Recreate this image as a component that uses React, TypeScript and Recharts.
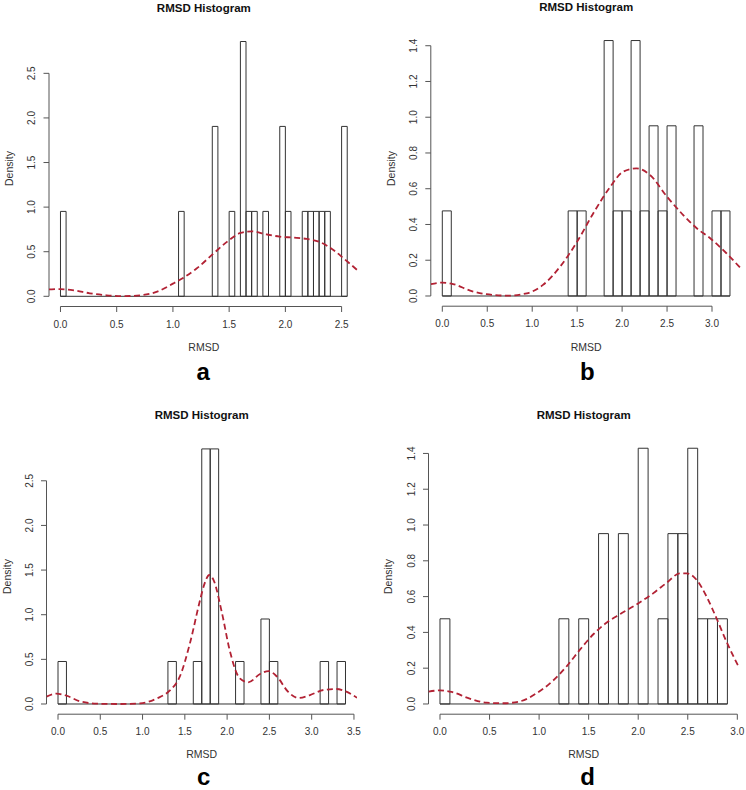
import React from 'react';
import { ComposedChart, Bar, Line, XAxis, YAxis, ReferenceLine } from 'recharts';

// ---------- Panel a (bin width 0.05) ----------
const binMidA = [0.025, 1.075, 1.375, 1.525, 1.625, 1.675, 1.725, 1.825, 1.975, 2.025, 2.175, 2.225, 2.275, 2.325, 2.375, 2.525];
const densA = [0.952, 0.952, 1.905, 0.952, 2.857, 0.952, 0.952, 0.952, 1.905, 0.952, 0.952, 0.952, 0.952, 0.952, 0.952, 1.905];
const curveXA = [-0.102, 0.0, 0.12, 0.26, 0.41, 0.56, 0.71, 0.86, 1.0, 1.09, 1.21, 1.36, 1.48, 1.6, 1.7, 1.83, 1.95, 2.07, 2.19, 2.31, 2.43, 2.52, 2.652];
const curveYA = [0.078, 0.08, 0.067, 0.034, 0.011, 0.002, 0.011, 0.052, 0.142, 0.206, 0.311, 0.479, 0.61, 0.71, 0.729, 0.695, 0.669, 0.658, 0.643, 0.606, 0.517, 0.423, 0.28];
const xTicksA = [0, 0.5, 1.0, 1.5, 2.0, 2.5];
const yTicksA = [0, 0.5, 1.0, 1.5, 2.0, 2.5];

// ---------- Panel b (bin width 0.1) ----------
const binMidB = [0.05, 1.45, 1.55, 1.85, 1.95, 2.05, 2.15, 2.25, 2.35, 2.45, 2.55, 2.85, 3.05, 3.15];
const densB = [0.476, 0.476, 0.476, 1.429, 0.476, 0.476, 1.429, 0.476, 0.952, 0.476, 0.952, 0.952, 0.476, 0.476];
const curveXB = [-0.128, 0.0, 0.12, 0.31, 0.49, 0.72, 0.94, 1.12, 1.31, 1.5, 1.68, 1.87, 2.01, 2.16, 2.31, 2.5, 2.68, 2.83, 2.98, 3.16, 3.328];
const curveYB = [0.066, 0.075, 0.067, 0.03, 0.01, 0.002, 0.015, 0.062, 0.164, 0.304, 0.463, 0.612, 0.695, 0.714, 0.677, 0.555, 0.453, 0.379, 0.323, 0.239, 0.15];
const xTicksB = [0, 0.5, 1.0, 1.5, 2.0, 2.5, 3.0];
const yTicksB = [0, 0.2, 0.4, 0.6, 0.8, 1.0, 1.2, 1.4];

// ---------- Panel c (bin width 0.1) ----------
const binMidC = [0.05, 1.35, 1.65, 1.75, 1.85, 2.15, 2.45, 2.55, 3.15, 3.35];
const densC = [0.476, 0.476, 0.476, 2.857, 2.857, 0.476, 0.952, 0.476, 0.476, 0.476];
const curveXC = [-0.136, -0.02, 0.1, 0.26, 0.46, 0.69, 0.97, 1.17, 1.32, 1.44, 1.56, 1.68, 1.73, 1.79, 1.84, 1.94, 2.03, 2.15, 2.25, 2.39, 2.49, 2.59, 2.72, 2.84, 2.98, 3.14, 3.29, 3.41, 3.536];
const curveYC = [0.082, 0.116, 0.093, 0.03, 0.004, 0.0, 0.007, 0.063, 0.149, 0.306, 0.679, 1.164, 1.34, 1.445, 1.388, 1.015, 0.604, 0.287, 0.243, 0.336, 0.369, 0.306, 0.138, 0.067, 0.1, 0.157, 0.168, 0.138, 0.07];
const xTicksC = [0, 0.5, 1.0, 1.5, 2.0, 2.5, 3.0, 3.5];
const yTicksC = [0, 0.5, 1.0, 1.5, 2.0, 2.5];

// ---------- Panel d (bin width 0.1) ----------
const binMidD = [0.05, 1.25, 1.45, 1.65, 1.85, 2.05, 2.25, 2.35, 2.45, 2.55, 2.65, 2.75, 2.85];
const densD = [0.476, 0.476, 0.476, 0.952, 0.952, 1.429, 0.476, 0.952, 0.952, 1.429, 0.476, 0.476, 0.476];
const curveXD = [-0.116, 0.0, 0.118, 0.3, 0.47, 0.64, 0.81, 0.975, 1.14, 1.28, 1.41, 1.55, 1.68, 1.82, 1.98, 2.15, 2.29, 2.42, 2.49, 2.59, 2.69, 2.79, 2.89, 3.016];
const curveYD = [0.069, 0.076, 0.067, 0.03, 0.007, 0.004, 0.015, 0.06, 0.13, 0.212, 0.302, 0.391, 0.454, 0.503, 0.555, 0.618, 0.678, 0.73, 0.73, 0.693, 0.6, 0.479, 0.349, 0.205];
const xTicksD = [0, 0.5, 1.0, 1.5, 2.0, 2.5, 3.0];
const yTicksD = [0, 0.2, 0.4, 0.6, 0.8, 1.0, 1.2, 1.4];

const FONT = '"Liberation Sans", Arial, Helvetica, sans-serif';
const AXIS_COLOR = '#555';
const BAR_COLOR = '#333';
const CURVE_COLOR = '#b22234';
const Y_AXIS_W = 30;
const X_AXIS_H = 30;

type PanelProps = {
  left: number; top: number; width: number; height: number;
  plot: { l: number; r: number; t: number; b: number };
  mids: number[]; dens: number[]; binW: number; firstBreak: number; lastBreak: number;
  curveX: number[]; curveY: number[];
  xDomain: [number, number]; yDomain: [number, number];
  xTicks: number[]; yTicks: number[];
};

const YTick = (props: any) => {
  const { x, y, payload } = props;
  return (
    <text x={x} y={y} transform={`rotate(-90 ${x} ${y})`} textAnchor="middle" fontSize={10} fill="#333" fontFamily={FONT}>
      {Number(payload.value).toFixed(1)}
    </text>
  );
};

const Panel = (p: PanelProps) => {
  const data = p.mids.map((m, i) => ({ mid: m, d: p.dens[i] }));
  const curve = p.curveX.map((x, i) => ({ x, y: p.curveY[i] }));
  const plotW = p.plot.r - p.plot.l;
  const barPx = (plotW * p.binW) / (p.xDomain[1] - p.xDomain[0]) - 0.01;
  const yTop = p.yTicks[p.yTicks.length - 1];
  const xFirst = p.xTicks[0];
  const xLast = p.xTicks[p.xTicks.length - 1];
  return (
    <div style={{ position: 'absolute', left: p.left, top: p.top, width: p.width, height: p.height, fontFamily: FONT }}>
      <ComposedChart
        width={p.width}
        height={p.height}
        data={data}
        barCategoryGap={0}
        barGap={0}
        margin={{
          top: p.plot.t,
          left: p.plot.l - Y_AXIS_W,
          right: p.width - p.plot.r,
          bottom: p.height - p.plot.b - X_AXIS_H,
        }}
      >
        <XAxis
          xAxisId="bins"
          dataKey="mid"
          type="number"
          domain={p.xDomain}
          allowDataOverflow
          ticks={p.xTicks}
          interval={0}
          tickFormatter={(v: number) => v.toFixed(1)}
          axisLine={false}
          stroke={AXIS_COLOR}
          tickSize={5.5}
          tickMargin={8.5}
          height={X_AXIS_H}
          tick={{ fontSize: 10, fill: '#333', fontFamily: FONT }}
        />
        <XAxis xAxisId="curve" dataKey="x" type="number" domain={p.xDomain} allowDataOverflow hide />
        <YAxis
          type="number"
          domain={p.yDomain}
          allowDataOverflow
          ticks={p.yTicks}
          interval={0}
          axisLine={false}
          stroke={AXIS_COLOR}
          tickSize={5.5}
          tickMargin={8}
          width={Y_AXIS_W}
          tick={<YTick />}
        />
        <ReferenceLine
          xAxisId="bins"
          segment={[{ x: xFirst, y: p.yDomain[0] }, { x: xLast, y: p.yDomain[0] }]}
          stroke={AXIS_COLOR}
          strokeWidth={1}
          ifOverflow="visible"
        />
        <ReferenceLine
          xAxisId="bins"
          segment={[{ x: p.xDomain[0], y: 0 }, { x: p.xDomain[0], y: yTop }]}
          stroke={AXIS_COLOR}
          strokeWidth={1}
          ifOverflow="visible"
        />
        <ReferenceLine
          xAxisId="bins"
          segment={[{ x: p.firstBreak, y: 0 }, { x: p.lastBreak, y: 0 }]}
          stroke={BAR_COLOR}
          strokeWidth={1}
          ifOverflow="visible"
        />
        <Bar
          xAxisId="bins"
          dataKey="d"
          fill="none"
          stroke={BAR_COLOR}
          strokeWidth={1}
          barSize={barPx}
          isAnimationActive={false}
        />
        <Line
          xAxisId="curve"
          data={curve}
          dataKey="y"
          type="monotone"
          dot={false}
          activeDot={false}
          stroke={CURVE_COLOR}
          strokeWidth={1.8}
          strokeDasharray="6 3.5"
          isAnimationActive={false}
        />
      </ComposedChart>
    </div>
  );
};

type Labels = { tx: number; ty: number; dx: number; dy: number; rx: number; ry: number; lx: number; ly: number; letter: string };

const labels: Labels[] = [
  { tx: 203.8, ty: 11.7, dx: 12.5, dy: 168.5, rx: 203.8, ry: 350.7, lx: 203.3, ly: 380, letter: 'a' },
  { tx: 586.2, ty: 11.2, dx: 394.5, dy: 168.5, rx: 586.2, ry: 350.7, lx: 587.3, ly: 379.5, letter: 'b' },
  { tx: 201.7, ty: 419.3, dx: 10.5, dy: 576.5, rx: 201.7, ry: 758.3, lx: 203.8, ly: 784.5, letter: 'c' },
  { tx: 583.7, ty: 419.3, dx: 392, dy: 576.5, rx: 583.7, ry: 758.3, lx: 587.5, ly: 784.5, letter: 'd' },
];

export default function App() {
  return (
    <div style={{ position: 'absolute', left: 0, top: 0, width: 746, height: 790, background: '#fff', overflow: 'hidden' }}>
      <Panel
        left={0} top={0} width={373} height={400}
        plot={{ l: 49, r: 358.7, t: 31.3, b: 306.5 }}
        mids={binMidA} dens={densA} binW={0.05} firstBreak={0} lastBreak={2.55}
        curveX={curveXA} curveY={curveYA}
        xDomain={[-0.102, 2.652]} yDomain={[-0.1143, 2.9714]}
        xTicks={xTicksA} yTicks={yTicksA}
      />
      <Panel
        left={373} top={0} width={373} height={400}
        plot={{ l: 57.8, r: 368.5, t: 30.4, b: 306.2 }}
        mids={binMidB} dens={densB} binW={0.1} firstBreak={0} lastBreak={3.2}
        curveX={curveXB} curveY={curveYB}
        xDomain={[-0.128, 3.328]} yDomain={[-0.05714, 1.48571]}
        xTicks={xTicksB} yTicks={yTicksB}
      />
      <Panel
        left={0} top={400} width={373} height={390}
        plot={{ l: 46.5, r: 357, t: 38.7, b: 314.2 }}
        mids={binMidC} dens={densC} binW={0.1} firstBreak={0} lastBreak={3.4}
        curveX={curveXC} curveY={curveYC}
        xDomain={[-0.136, 3.536]} yDomain={[-0.1143, 2.9714]}
        xTicks={xTicksC} yTicks={yTicksC}
      />
      <Panel
        left={373} top={400} width={373} height={390}
        plot={{ l: 55.5, r: 365.9, t: 38.1, b: 314.2 }}
        mids={binMidD} dens={densD} binW={0.1} firstBreak={0} lastBreak={2.9}
        curveX={curveXD} curveY={curveYD}
        xDomain={[-0.116, 3.016]} yDomain={[-0.05714, 1.48571]}
        xTicks={xTicksD} yTicks={yTicksD}
      />
      <svg width={746} height={790} style={{ position: 'absolute', left: 0, top: 0, pointerEvents: 'none' }} fontFamily={FONT}>
        {labels.map((l) => (
          <g key={l.letter}>
            <text x={l.tx} y={l.ty} textAnchor="middle" fontSize={11.5} fontWeight="bold" fill="#111">RMSD Histogram</text>
            <text x={l.dx} y={l.dy} transform={`rotate(-90 ${l.dx} ${l.dy})`} textAnchor="middle" fontSize={10.5} fill="#333">Density</text>
            <text x={l.rx} y={l.ry} textAnchor="middle" fontSize={10.5} fill="#333">RMSD</text>
            <text x={l.lx} y={l.ly} textAnchor="middle" fontSize={24} fontWeight="bold" fill="#000">{l.letter}</text>
          </g>
        ))}
      </svg>
    </div>
  );
}
